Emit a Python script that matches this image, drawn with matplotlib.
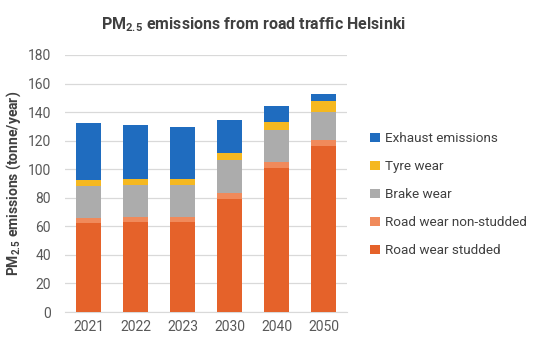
import matplotlib
matplotlib.use("Agg")
import matplotlib.pyplot as plt
import numpy as np

plt.rcParams['font.family'] = ['Roboto', 'DejaVu Sans']
plt.rcParams['mathtext.fontset'] = 'custom'
plt.rcParams['mathtext.rm'] = 'Roboto'
plt.rcParams['mathtext.bf'] = 'Roboto:bold'

years = ["2021", "2022", "2023", "2030", "2040", "2050"]
road_studded = [62, 63, 63, 79, 101, 116]
road_non_studded = [4, 3.5, 3.5, 4.2, 4.2, 4.4]
brake_wear = [22, 22.6, 22.6, 23, 22.2, 19.9]
tyre_wear = [4.2, 4.2, 4.2, 5.4, 5.9, 7.2]
exhaust = [40, 38, 36, 23, 11.2, 4.9]

series = [
    ("Road wear studded", road_studded, "#E5622A"),
    ("Road wear non-studded", road_non_studded, "#F08A5B"),
    ("Brake wear", brake_wear, "#ACACAC"),
    ("Tyre wear", tyre_wear, "#F5B820"),
    ("Exhaust emissions", exhaust, "#1F6CBF"),
]

fig = plt.figure(figsize=(5.4, 3.5), dpi=100)
ax = fig.add_axes([65/540, 1-312/350, 282/540, 257/350])

x = np.arange(len(years))
bottom = np.zeros(len(years))
handles = []
for name, vals, col in series:
    b = ax.bar(x, vals, 0.55, bottom=bottom, color=col, label=name, zorder=3)
    bottom += np.array(vals)
    handles.append(b)

ax.set_ylim(0, 180)
ax.set_yticks(range(0, 181, 20))
ax.set_xlim(-0.5, len(years) - 0.5)
ax.set_xticks(x)
ax.set_xticklabels(years)
ax.grid(axis='y', color='#d9d9d9', linewidth=0.9, zorder=0)
for s in ax.spines.values():
    s.set_visible(False)
ax.spines['bottom'].set_visible(True)
ax.spines['bottom'].set_color('#d9d9d9')
ax.tick_params(axis='both', length=0, colors='#595959', labelsize=10)
ax.tick_params(axis='y', pad=10)
ax.tick_params(axis='x', pad=6)

ax.set_ylabel("PM$_{\\mathbf{2.5}}$ emissions (tonne/year)", fontsize=10, fontweight='bold', color='#404040')
ax.yaxis.set_label_coords(-0.148, 0.5)
fig.text(254/540, 1-25/350, "PM$_{\\mathbf{2.5}}$ emissions from road traffic Helsinki", ha='center', va='center',
         fontsize=11.5, fontweight='bold', color='#404040')

leg = fig.legend(handles[::-1], [s[0] for s in series][::-1], loc='upper left',
                 bbox_to_anchor=(358/540, 1-120/350), frameon=False, fontsize=9.7,
                 handlelength=0.7, handleheight=0.7, handletextpad=0.4, labelspacing=1.12,
                 labelcolor='#404040')

fig.savefig("out.png", dpi=100)
